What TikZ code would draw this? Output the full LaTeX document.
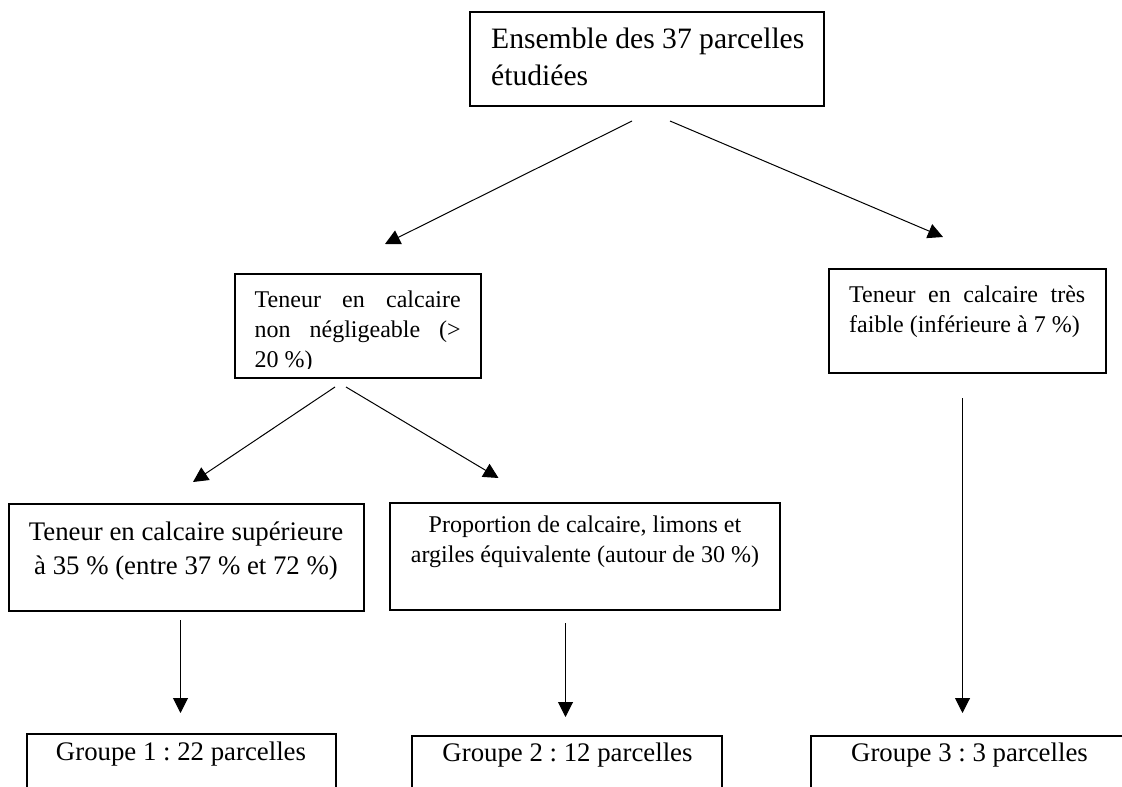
\documentclass[tikz,border=0pt]{standalone}
\usepackage{fontspec}
\setmainfont{Liberation Serif}
\usetikzlibrary{arrows.meta}
\frenchspacing
\begin{document}
\begin{tikzpicture}[x=1pt,y=-1pt,
  box/.style={draw, line width=1.3pt, rectangle, inner sep=0pt},
  conn/.style={line width=1pt, -{Triangle[length=15pt,width=15pt]}},
  ltxt/.style={inner sep=0pt, anchor=base west},
  ctxt/.style={inner sep=0pt, anchor=base},
]
\useasboundingbox (0,0) rectangle (1122,787);

% boxes
\node[box, minimum width=354pt, minimum height=94pt]  (top)  at (647,59) {};
\node[box, minimum width=246pt, minimum height=104pt] (calc) at (358,326) {};
\node[box, minimum width=277pt, minimum height=104pt] (faib) at (967.5,321) {};
\node[box, minimum width=355pt, minimum height=107pt] (sup)  at (186.5,557.5) {};
\node[box, minimum width=390pt, minimum height=107pt] (prop) at (585,556.5) {};
\node[box, minimum width=309pt, minimum height=96pt]  (g1)   at (181.5,782) {};
\node[box, minimum width=310pt, minimum height=94pt]  (g2)   at (567,783) {};
\node[box, minimum width=317pt, minimum height=94pt]  (g3)   at (969.5,783) {};

% texts
\node[ltxt] (ttop) at (491,48) {\parbox[t]{320pt}{\frenchspacing\fontsize{29.6}{37}\selectfont Ensemble des 37 parcelles\\ étudiées}};

\begin{scope}
\clip (236,275) rectangle (480,368.5);
\node[ltxt] (tcalc) at (254.5,307) {\parbox[t]{206pt}{\frenchspacing\fontsize{24}{30}\selectfont\makebox[206pt][s]{Teneur en calcaire}\\ \makebox[206pt][s]{non négligeable (>}\\ 20 \%)}};
\end{scope}

\node[ltxt] (tfaib) at (849,302) {\parbox[t]{236pt}{\frenchspacing\fontsize{24}{30}\selectfont\makebox[236pt][s]{Teneur en calcaire très}\\ faible (inférieure à 7 \%)}};

\node[ctxt] (tsup) at (186,540) {\parbox[t]{350pt}{\centering\frenchspacing\fontsize{26.8}{34}\selectfont Teneur en calcaire supérieure\\ à 35 \% (entre 37 \% et 72 \%)}};

\node[ctxt] (tprop) at (585,532) {\parbox[t]{380pt}{\centering\frenchspacing\fontsize{24}{30}\selectfont Proportion de calcaire, limons et\\ argiles équivalente (autour de 30 \%)}};

\node[ctxt] (tg1) at (181,760) {\frenchspacing\fontsize{26.8}{34}\selectfont Groupe 1 : 22 parcelles};
\node[ctxt] (tg2) at (567.5,761) {\frenchspacing\fontsize{26.8}{34}\selectfont Groupe 2 : 12 parcelles};
\node[ctxt] (tg3) at (969.5,761) {\frenchspacing\fontsize{26.8}{34}\selectfont Groupe 3 : 3 parcelles};

% connector ends
\coordinate (a1s) at (632,121);   \coordinate (a1e) at (385,244);
\coordinate (a2s) at (670,121);   \coordinate (a2e) at (943,237);
\coordinate (a3s) at (335,387);   \coordinate (a3e) at (193,482);
\coordinate (a4s) at (346,387);   \coordinate (a4e) at (498.5,478);
\coordinate (a5s) at (180.5,620); \coordinate (a5e) at (180.5,713);
\coordinate (a6s) at (565.5,623); \coordinate (a6e) at (565.5,717);
\coordinate (a7s) at (962.5,398); \coordinate (a7e) at (962.5,713);

\draw[conn] (a1s) -- (a1e);
\draw[conn] (a2s) -- (a2e);
\draw[conn] (a3s) -- (a3e);
\draw[conn] (a4s) -- (a4e);
\draw[conn] (a5s) -- (a5e);
\draw[conn] (a6s) -- (a6e);
\draw[conn] (a7s) -- (a7e);
\end{tikzpicture}
\end{document}
